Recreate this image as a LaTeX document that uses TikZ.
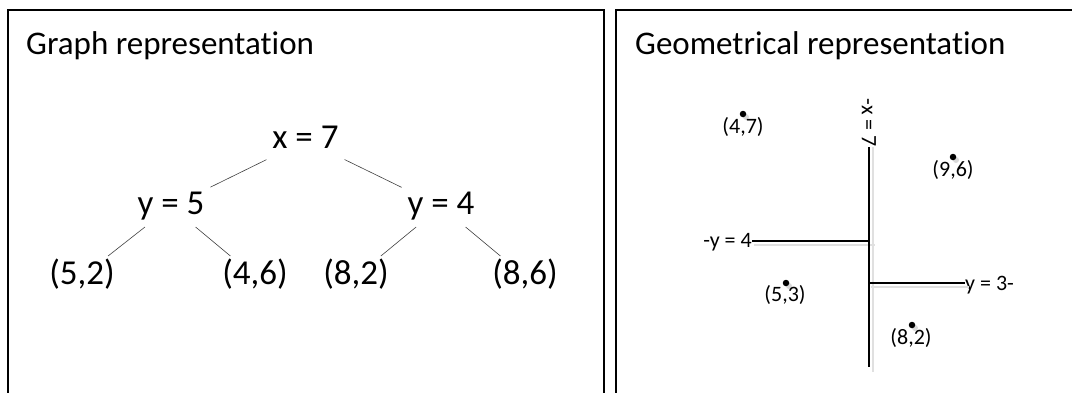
\documentclass[tikz,border=0pt]{standalone}
\usepackage{fontspec}
\setmainfont{Carlito}[Ligatures={NoCommon}]
\begin{document}
\begin{tikzpicture}[x=1pt,y=-1pt,
  panel/.style={draw=black, line width=1.4pt},
  paneltitle/.style={font=\fontsize{33}{38}\selectfont, anchor=base west, inner sep=0pt},
  treenode/.style={font=\fontsize{35}{40}\selectfont, anchor=base, inner sep=0pt, outer sep=6pt, text height=22pt, text depth=7pt},
  treeedge/.style={draw=black!75, line width=0.6pt},
  geolabel/.style={font=\fontsize{22}{26}\selectfont, inner sep=0pt},
  cutline/.style={draw=black, line width=1.8pt},
  shadowline/.style={draw=black!12, line width=2pt},
  dotmark/.style={circle, fill=black, inner sep=0pt, minimum size=6.5pt},
  dotshadow/.style={circle, fill=black!15, inner sep=0pt, minimum size=6pt}
]
\useasboundingbox (0,0) rectangle (1072,392);

% panels
\draw[panel] (8,10) rectangle (604,410);
\draw[panel] (616,10) rectangle (1090,410);
\node[paneltitle] (t1) at (26,54) {Graph representation};
\node[paneltitle] (t2) at (635,54) {Geometrical representation};

% tree
\node[treenode] (x7) at (305.5,148) {x = 7};
\node[treenode] (y5) at (171,214) {y = 5};
\node[treenode] (y4) at (441,214) {y = 4};
\node[treenode] (p52) at (82,284) {(5,2)};
\node[treenode] (p46) at (255,284) {(4,6)};
\node[treenode] (p82) at (356,284) {(8,2)};
\node[treenode] (p86) at (525,284) {(8,6)};
\draw[treeedge] (x7) -- (y5);
\draw[treeedge] (x7) -- (y4);
\draw[treeedge] (y5) -- (p52);
\draw[treeedge] (y5) -- (p46);
\draw[treeedge] (y4) -- (p82);
\draw[treeedge] (y4) -- (p86);

% geometric representation
\coordinate (vbot) at (869,367);
\coordinate (hl) at (869,241);
\coordinate (hr) at (869,283);
\node[geolabel, rotate=-90, anchor=east] (xl) at (869,147) {-x = 7};
\node[geolabel, anchor=base east] (yl) at (752,247) {-y = 4};
\node[geolabel, anchor=base west] (yr) at (965,290) {y = 3-};

\draw[shadowline] ([shift={(4,0)}]xl.east) -- ([shift={(4,5)}]vbot);
\draw[shadowline] ([shift={(2,4)}]yl.east |- hl) -- ([shift={(6,4)}]hl);
\draw[shadowline] ([shift={(2,4)}]hr) -- ([shift={(4,4)}]yr.west |- hr);

\draw[cutline] (xl.east) -- (vbot);
\draw[cutline] (yl.east |- hl) -- (hl);
\draw[cutline] (hr) -- (yr.west |- hr);

% points
\node[dotshadow] (s47) at (746,117) {};
\node[dotshadow] (s96) at (956,160) {};
\node[dotshadow] (s53) at (789,286) {};
\node[dotshadow] (s82) at (915,328) {};
\node[dotmark] (d47) at (743,114) {};
\node[dotmark] (d96) at (953,157) {};
\node[dotmark] (d53) at (786,283) {};
\node[dotmark] (d82) at (912,325) {};
\node[geolabel, anchor=base] (l47) at (743,133) {(4,7)};
\node[geolabel, anchor=base] (l96) at (953,176) {(9,6)};
\node[geolabel, anchor=base] (l53) at (785,301) {(5,3)};
\node[geolabel, anchor=base] (l82) at (911,344) {(8,2)};
\end{tikzpicture}
\end{document}
